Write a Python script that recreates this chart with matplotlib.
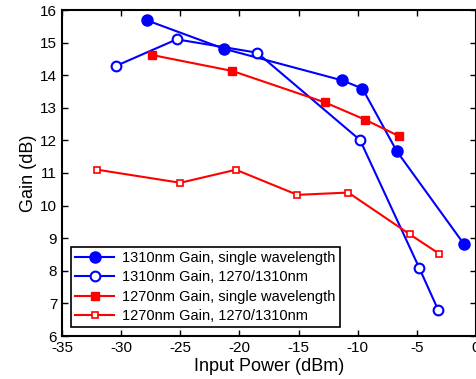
import matplotlib
matplotlib.use('Agg')
import matplotlib.pyplot as plt

plt.rcParams['font.family'] = ['Liberation Sans', 'DejaVu Sans']
plt.rcParams['axes.unicode_minus'] = False

# 1310nm gain, single wavelength
x_1310_single = [-27.8, -21.3, -11.3, -9.6, -6.7, -1.0]
y_1310_single = [15.68, 14.81, 13.84, 13.59, 11.67, 8.81]

# 1310nm gain, 1270/1310nm
x_1310_dual = [-30.4, -25.3, -18.5, -9.8, -4.8, -3.2]
y_1310_dual = [14.29, 15.10, 14.69, 12.01, 8.09, 6.80]

# 1270nm gain, single wavelength
x_1270_single = [-27.4, -20.6, -12.8, -9.4, -6.5]
y_1270_single = [14.62, 14.13, 13.17, 12.64, 12.13]

# 1270nm gain, 1270/1310nm
x_1270_dual = [-32.0, -25.0, -20.3, -15.1, -10.8, -5.6, -3.1]
y_1270_dual = [11.10, 10.70, 11.10, 10.33, 10.40, 9.12, 8.52]

labels = ['1310nm Gain, single wavelength', '1310nm Gain, 1270/1310nm',
          '1270nm Gain, single wavelength', '1270nm Gain, 1270/1310nm']

fig = plt.figure(figsize=(4.77, 3.79), dpi=100)
ax = fig.add_axes([62/477, 1 - 336/379, (476-62)/477, (336-10)/379])

ax.plot(x_1310_single, y_1310_single, '-o', color='#0000ff', lw=1.5, ms=8,
        label=labels[0])
ax.plot(x_1310_dual, y_1310_dual, '-o', color='#0000ff', lw=1.5, ms=7,
        mfc='white', mew=1.5, label=labels[1])
ax.plot(x_1270_single, y_1270_single, '-s', color='#ff0000', lw=1.5, ms=6,
        label=labels[2])
ax.plot(x_1270_dual, y_1270_dual, '-s', color='#ff0000', lw=1.5, ms=4.5,
        mfc='white', mew=1.2, label=labels[3])

ax.set_xlim(-35, 0)
ax.set_ylim(6, 16)
ax.set_xticks(range(-35, 1, 5))
ax.set_yticks(range(6, 17))
ax.tick_params(direction='in', top=True, right=True, labelsize=11, length=4, width=1)
for s in ax.spines.values():
    s.set_linewidth(1.5)

ax.set_xlabel('Input Power (dBm)', fontsize=13, labelpad=2)
ax.set_ylabel('Gain (dB)', fontsize=13, labelpad=2)

leg = ax.legend(loc='lower left', fontsize=10.5, fancybox=False, framealpha=1,
                edgecolor='black', borderaxespad=0.6, handlelength=2.7,
                labelspacing=0.36, borderpad=0.3, handletextpad=0.5)
leg.get_frame().set_linewidth(1.2)

fig.savefig('out.png', dpi=100)
